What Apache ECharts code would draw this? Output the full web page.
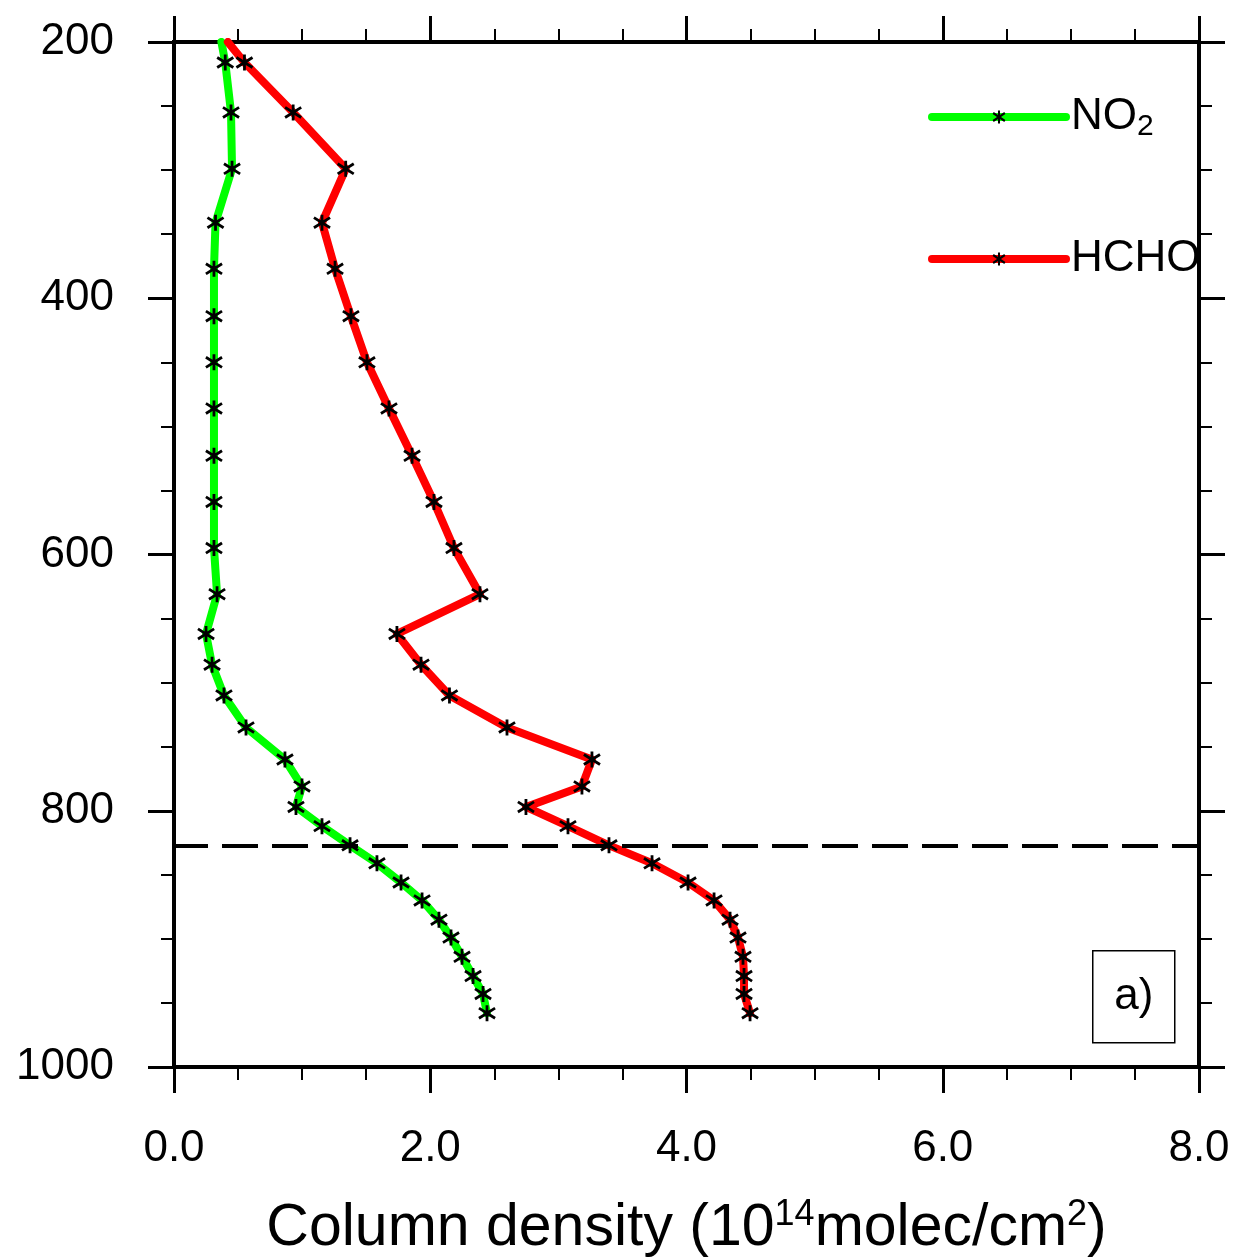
<!DOCTYPE html>
<html>
<head>
<meta charset="utf-8">
<title>Column density profiles</title>
<script src="https://cdn.jsdelivr.net/npm/echarts@6/dist/echarts.min.js"></script>
<style>
  html, body { margin: 0; padding: 0; background: #ffffff; }
  #chart { width: 1239px; height: 1260px; }
</style>
</head>
<body>
<div id="chart"></div>
<script>
// Pressure levels of the profile (hPa); the first entry is where the profile meets the 200 hPa top
const pressureLevels = [200, 216, 255, 299, 341, 377, 414, 450, 486, 523, 559, 595, 631, 662, 686,
  710, 735, 760, 781, 797, 812, 827, 841, 856, 870, 885, 899, 914, 929, 943, 958];

// Column densities (10^14 molec/cm^2) at each level
const no2Column = [0.37, 0.40, 0.445, 0.453, 0.324, 0.312, 0.312, 0.312, 0.312, 0.312, 0.312, 0.312, 0.336,
  0.25, 0.297, 0.39, 0.562, 0.866, 0.999, 0.952, 1.155, 1.374, 1.584, 1.772, 1.936, 2.068, 2.162,
  2.248, 2.334, 2.412, 2.443];
const hchoColumn = [0.42, 0.55, 0.93, 1.34, 1.155, 1.257, 1.381, 1.506, 1.678, 1.858, 2.029, 2.185, 2.388,
  1.74, 1.928, 2.15, 2.599, 3.262, 3.184, 2.747, 3.075, 3.395, 3.731, 4.012, 4.215, 4.34, 4.402,
  4.441, 4.449, 4.449, 4.496];

const seriesNames = ['NO2', 'HCHO'];
const columnTicks = [0, 2, 4, 6, 8];
const pressureTicks = [200, 400, 600, 800, 1000];
const boundaryLayerTop = 827;
const panelLabel = 'a)';

const FONT = '"Liberation Sans", Arial, Helvetica, sans-serif';

// Six-armed asterisk marker built from three bars through the centre
function asterisk(rVert, rDiag, angleDeg, w) {
  const bars = [[90, rVert], [angleDeg, rDiag], [-angleDeg, rDiag]].map(([deg, r]) => {
    const a = deg * Math.PI / 180, c = Math.cos(a), s = Math.sin(a);
    const px = -s * w / 2, py = c * w / 2;
    const pts = [[-r * c + px, -r * s + py], [r * c + px, r * s + py], [r * c - px, r * s - py], [-r * c - px, -r * s - py]];
    return 'M' + pts.map(p => p[0].toFixed(3) + ' ' + p[1].toFixed(3)).join('L') + 'Z';
  });
  const a = angleDeg * Math.PI / 180;
  const halfW = rDiag * Math.cos(a) + w / 2 * Math.sin(a);
  const halfH = Math.max(rVert, rDiag * Math.sin(a) + w / 2 * Math.cos(a));
  return { path: 'path://' + bars.join(''), size: [2 * halfW, 2 * halfH] };
}
const STAR = asterisk(8, 9.5, 32, 2.8);

function profile(values) {
  return values.map((v, i) => ({
    value: [v, pressureLevels[i]],
    symbol: i === 0 ? 'none' : STAR.path
  }));
}

const axisCommon = {
  axisLine: { show: true, onZero: false, lineStyle: { color: '#000', width: 4, cap: 'square' } },
  axisTick: { show: true, inside: false, length: 26, lineStyle: { color: '#000', width: 3 } },
  minorTick: { show: true, splitNumber: 4, length: 13, lineStyle: { color: '#000', width: 2 } },
  splitLine: { show: false },
  minorSplitLine: { show: false }
};

const labelStyle = { fontSize: 44, color: '#000', fontFamily: FONT };

const chart = echarts.init(document.getElementById('chart'), null, { renderer: 'canvas' });

chart.setOption({
  animation: false,
  backgroundColor: '#ffffff',
  grid: { left: 174, right: 40, top: 42, bottom: 193, containLabel: false, outerBoundsMode: 'none' },
  xAxis: [
    Object.assign({
      type: 'value', position: 'bottom', gridIndex: 0,
      min: columnTicks[0], max: columnTicks[columnTicks.length - 1], interval: columnTicks[1] - columnTicks[0],
      axisLabel: Object.assign({ margin: 60, formatter: v => v.toFixed(1) }, labelStyle),
      name: '{a|Column density (10}{b|14}{a|molec/cm}{b|2}{a|)}',
      nameLocation: 'middle',
      nameGap: 130,
      nameTextStyle: {
        fontFamily: FONT, color: '#000',
        rich: {
          a: { fontSize: 59, lineHeight: 64, fontFamily: FONT, color: '#000' },
          b: { fontSize: 36, lineHeight: 40, verticalAlign: 'top', fontFamily: FONT, color: '#000' }
        }
      }
    }, axisCommon),
    Object.assign({
      type: 'value', position: 'top', gridIndex: 0,
      min: columnTicks[0], max: columnTicks[columnTicks.length - 1], interval: columnTicks[1] - columnTicks[0],
      axisLabel: { show: false }
    }, axisCommon)
  ],
  yAxis: [
    Object.assign({
      type: 'value', position: 'left', inverse: true, gridIndex: 0,
      min: pressureTicks[0], max: pressureTicks[pressureTicks.length - 1], interval: pressureTicks[1] - pressureTicks[0],
      axisLabel: Object.assign({ margin: 60, padding: [6, 0, 0, 0], formatter: v => String(v) }, labelStyle)
    }, axisCommon),
    Object.assign({
      type: 'value', position: 'right', inverse: true, gridIndex: 0,
      min: pressureTicks[0], max: pressureTicks[pressureTicks.length - 1], interval: pressureTicks[1] - pressureTicks[0],
      axisLabel: { show: false }
    }, axisCommon)
  ],
  legend: {
    orient: 'vertical',
    left: 928,
    top: 95,
    padding: 0,
    itemWidth: 134,
    itemHeight: 16,
    itemGap: 95,
    data: seriesNames,
    lineStyle: { width: 8, cap: 'round' },
    formatter: name => name === 'NO2' ? '{a|NO}{s|2}' : '{a|' + name + '}',
    textStyle: {
      fontFamily: FONT, color: '#000',
      rich: {
        a: { fontSize: 44, lineHeight: 50, fontFamily: FONT, color: '#000' },
        s: { fontSize: 30, lineHeight: 50, verticalAlign: 'bottom', fontFamily: FONT, color: '#000' }
      }
    }
  },
  series: [
    {
      name: seriesNames[0],
      type: 'line',
      xAxisIndex: 0, yAxisIndex: 0,
      data: profile(no2Column),
      symbol: STAR.path,
      symbolSize: STAR.size,
      showAllSymbol: true,
      clip: true,
      z: 2,
      lineStyle: { color: '#00ff00', width: 8, cap: 'round', join: 'round' },
      itemStyle: { color: '#000' }
    },
    {
      name: seriesNames[1],
      type: 'line',
      xAxisIndex: 0, yAxisIndex: 0,
      data: profile(hchoColumn),
      symbol: STAR.path,
      symbolSize: STAR.size,
      showAllSymbol: true,
      clip: true,
      z: 3,
      lineStyle: { color: '#ff0000', width: 8, cap: 'round', join: 'round' },
      itemStyle: { color: '#000' },
      markLine: {
        silent: true,
        symbol: ['none', 'none'],
        label: { show: false },
        lineStyle: { color: '#000', width: 4, type: [36, 14], dashOffset: 2 },
        emphasis: { disabled: true },
        data: [{ yAxis: boundaryLayerTop }]
      }
    }
  ],
  graphic: [
    {
      type: 'group',
      left: 1092,
      top: 950,
      children: [
        { type: 'rect', shape: { x: 0, y: 0, width: 82, height: 92 },
          style: { fill: '#fff', stroke: '#000', lineWidth: 1.5 } },
        { type: 'text', x: 41, y: 46,
          style: { text: panelLabel, fontSize: 44, fontFamily: FONT, fill: '#000', align: 'center', verticalAlign: 'middle' } }
      ]
    }
  ]
});
</script>
</body>
</html>
